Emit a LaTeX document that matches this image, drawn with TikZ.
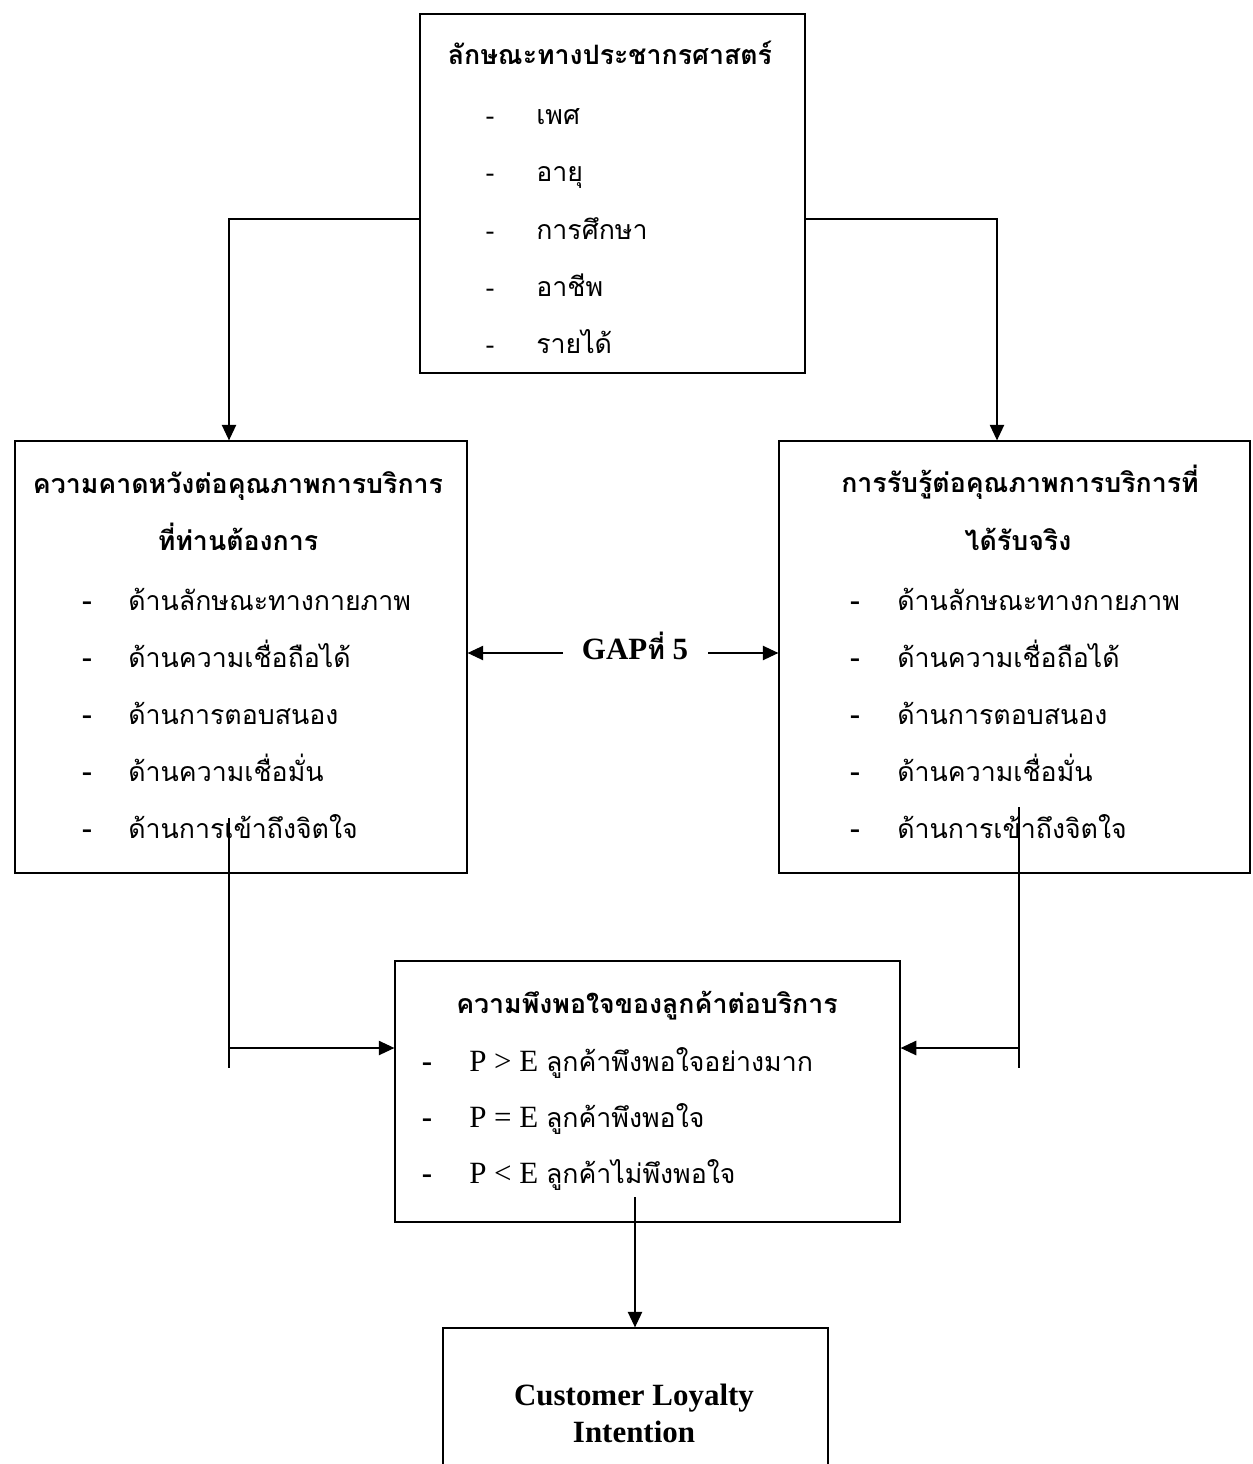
\documentclass[tikz,border=0pt]{standalone}
\usepackage{fontspec}
\setmainfont{Liberation Serif}
\newfontfamily\thaifont[Script=Thai]{Loma}
\usetikzlibrary{fit,arrows.meta}

\tikzset{
  box/.style={draw, line width=0.9pt, inner sep=0pt},
  txt/.style={font=\thaifont\fontsize{19}{22}\selectfont, inner sep=0pt, anchor=base west},
  head/.style={font=\thaifont\bfseries\fontsize{19}{22}\selectfont, inner sep=0pt, anchor=base},
  hyph/.style={font=\fontsize{19}{22}\selectfont, inner sep=0pt, anchor=base},
  bhyph/.style={font=\bfseries\fontsize{22}{24}\selectfont, inner sep=0pt, anchor=base},
  latin/.style={font=\fontsize{22}{24}\selectfont},
  ln/.style={line width=0.9pt},
  arr/.style={line width=0.9pt, -{Triangle[length=0.39cm,width=0.36cm]}}
}

\begin{document}
\begin{tikzpicture}[x=0.025cm,y=-0.025cm]
                    \useasboundingbox (0,0) rectangle (1252,1464);
                    % Boxes
                    \node[box, fit={(420,14) (805,373)}] (demo) {};
                    \node[box, fit={(15,441) (467,873)}] (exp) {};
                    \node[box, fit={(779,441) (1250,873)}] (perc) {};
                    \node[box, fit={(395,961) (900,1222)}] (sat) {};
                    \node[box, fit={(443,1328) (828,1530)}] (loyal) {};
                    % Texts
                    \node[head] (demoT) at (610,65) {ลักษณะทางประชากรศาสตร์};
                    \foreach \t [count=\i] in {เพศ,อายุ,การศึกษา,อาชีพ,รายได้} {
                      \node[hyph] (demoD\i) at (490,{68+57*\i}) {-};
                      \node[txt] (demoI\i) at (536,{68+57*\i}) {\t};
                    }
                    \node[head] (expT1) at (238,493) {ความคาดหวังต่อคุณภาพการบริการ};
                    \node[head] (expT2) at (238,550) {ที่ท่านต้องการ};
                    \node[head] (percT1) at (1020,492) {การรับรู้ต่อคุณภาพการบริการที่};
                    \node[head] (percT2) at (1018,550) {ได้รับจริง};
                    \foreach \t [count=\i] in {ด้านลักษณะทางกายภาพ,ด้านความเชื่อถือได้,ด้านการตอบสนอง,ด้านความเชื่อมั่น,ด้านการเข้าถึงจิตใจ} {
                      \node[bhyph] (expD\i) at (87,{553+57*\i}) {-};
                      \node[txt] (expI\i) at (128,{553+57*\i}) {\t};
                      \node[bhyph] (percD\i) at (855,{553+57*\i}) {-};
                      \node[txt] (percI\i) at (897,{553+57*\i}) {\t};
                    }
                    \node[head] (gap) at (635,659) {\rmfamily\fontsize{22}{24}\selectfont GAP{\thaifont\fontsize{19}{22}\selectfont ที่} 5};
                    \node[head] (satT) at (647,1013) {ความพึงพอใจของลูกค้าต่อบริการ};
                    \node[bhyph] (satD1) at (427,1071) {-};
                    \node[txt, latin] (satI1) at (469,1071) {P > E {\thaifont\fontsize{19}{22}\selectfont ลูกค้าพึงพอใจอย่างมาก}};
                    \node[bhyph] (satD2) at (427,1127) {-};
                    \node[txt, latin] (satI2) at (469,1127) {P = E {\thaifont\fontsize{19}{22}\selectfont ลูกค้าพึงพอใจ}};
                    \node[bhyph] (satD3) at (427,1183) {-};
                    \node[txt, latin] (satI3) at (469,1183) {P < E {\thaifont\fontsize{19}{22}\selectfont ลูกค้าไม่พึงพอใจ}};
                    \node[bhyph] (loyalT1) at (634,1405) {Customer Loyalty};
                    \node[bhyph] (loyalT2) at (634,1442) {Intention};
                    % Edges
                    \coordinate (kneeL) at (229,219);
                    \coordinate (kneeR) at (997,219);
                    \draw[arr] (kneeL -| demo.west) -- (kneeL) -- (kneeL |- exp.north);
                    \draw[arr] (kneeR -| demo.east) -- (kneeR) -- (kneeR |- perc.north);
                    \coordinate (gapL) at (563,653);
                    \coordinate (gapR) at (708,653);
                    \draw[arr] (gapL) -- (gapL -| exp.east);
                    \draw[arr] (gapR) -- (gapR -| perc.west);
                    \coordinate (expOut) at (229,818);
                    \coordinate (expEnd) at (229,1068);
                    \coordinate (expTurn) at (229,1048);
                    \draw[ln] (expOut) -- (expEnd);
                    \draw[arr] (expTurn) -- (expTurn -| sat.west);
                    \coordinate (percOut) at (1019,807);
                    \coordinate (percEnd) at (1019,1068);
                    \coordinate (percTurn) at (1019,1048);
                    \draw[ln] (percOut) -- (percEnd);
                    \draw[arr] (percTurn) -- (percTurn -| sat.east);
                    \coordinate (satOut) at (635,1197);
                    \draw[arr] (satOut) -- (satOut |- loyal.north);
                \end{tikzpicture}
\end{document}
